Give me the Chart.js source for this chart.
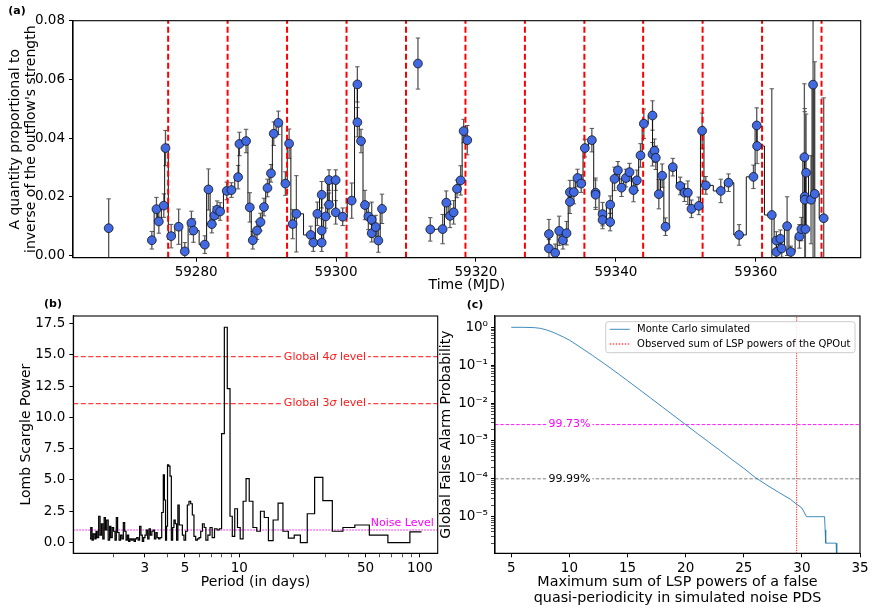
<!DOCTYPE html>
<html>
<head>
<meta charset="utf-8">
<script src="https://cdn.jsdelivr.net/npm/chart.js@4.4.1/dist/chart.umd.min.js"></script>
<style>
html,body{margin:0;padding:0;background:#fff;width:872px;height:610px;overflow:hidden;position:relative;}
canvas{position:absolute;}
#ca{left:0;top:0;}
#cb{left:0;top:290px;}
#cc{left:432px;top:290px;}
</style>
</head>
<body>
<canvas id="ca" width="872" height="300" style="width:872px;height:300px"></canvas>
<canvas id="cb" width="440" height="320" style="width:440px;height:320px"></canvas>
<canvas id="cc" width="440" height="320" style="width:440px;height:320px"></canvas>
<script>
// ---------------- Panel (a) data ----------------
const mjd = [59267.5,59273.67,59274.33,59274.67,59275.38,59275.62,59276.43,59277.5,59278.38,59279.33,
59279.62,59281.24,59281.76,59282.24,59282.62,59283.0,59283.43,59284.38,59285.05,59286.0,
59286.19,59287.14,59287.67,59288.1,59288.7,59289.2,59289.7,59290.2,59290.7,59291.1,
59291.76,59292.76,59293.29,59293.8,59294.33,59296.38,59296.76,59297.33,59297.95,59297.95,
59297.95,59298.52,59299.0,59299.0,59299.95,59299.95,59300.95,59302.24,59303.05,59303.05,
59303.57,59304.14,59304.62,59305.1,59305.1,59305.67,59306.05,59306.57,59311.71,59313.47,
59315.24,59315.76,59316.29,59316.81,59317.29,59317.81,59318.24,59318.76,59330.43,59330.43,
59331.33,59331.9,59332.43,59332.95,59333.43,59333.43,59334.0,59334.52,59335.05,59335.57,
59336.57,59337.1,59337.1,59338.1,59338.1,59339.19,59339.19,59339.81,59340.29,59340.81,
59341.43,59341.95,59342.52,59343.0,59343.52,59344.0,59345.24,59345.24,59345.52,59345.71,
59346.14,59346.62,59347.1,59348.14,59349.2,59349.81,59350.29,59350.81,59351.86,59352.33,
59352.86,59355.0,59356.1,59357.62,59359.67,59360.14,59360.19,59362.29,59362.95,59362.95,
59363.52,59363.71,59364.48,59365.0,59366.24,59366.52,59366.95,59367.0,59367.0,59367.1,
59367.19,59367.9,59368.19,59368.43,59369.71];
const strength = [0.0093,0.0052,0.0158,0.0116,0.0170,0.0366,0.0066,0.0098,0.0014,0.0111,
0.0085,0.0037,0.0225,0.0107,0.0136,0.0156,0.0150,0.0220,0.0223,0.0267,
0.0380,0.0390,0.0164,0.0052,0.0085,0.0114,0.0165,0.0230,0.0280,0.0415,
0.0452,0.0245,0.0381,0.0107,0.0142,0.0070,0.0044,0.0142,0.0207,0.0085,
0.0044,0.0133,0.0257,0.0173,0.0257,0.0147,0.0132,0.0187,0.0583,0.0454,
0.0390,0.0172,0.0133,0.0122,0.0076,0.0097,0.0051,0.0159,0.0654,0.0089,
0.0090,0.0180,0.0135,0.0147,0.0227,0.0256,0.0424,0.0393,0.0073,0.0024,
0.0009,0.0084,0.0052,0.0076,0.0216,0.0183,0.0216,0.0264,0.0245,0.0366,
0.0393,0.0214,0.0207,0.0141,0.0121,0.0173,0.0114,0.0261,0.0290,0.0231,
0.0264,0.0284,0.0223,0.0256,0.0341,0.0449,0.0477,0.0345,0.0357,0.0333,
0.0209,0.0272,0.0098,0.0301,0.0237,0.0214,0.0214,0.0159,0.0169,0.0425,
0.0239,0.0220,0.0248,0.0070,0.0268,0.0443,0.0373,0.0138,0.0051,0.0012,
0.0057,0.0024,0.0100,0.0012,0.0065,0.0090,0.0335,0.0201,0.0190,0.0090,
0.0282,0.0190,0.0582,0.0210,0.0127];
const strengthErr = [0.0100,0.0030,0.0040,0.0040,0.0040,0.0060,0.0040,0.0060,0.0030,0.0040,
0.0040,0.0030,0.0070,0.0030,0.0030,0.0030,0.0030,0.0030,0.0025,0.0040,
0.0040,0.0040,0.0050,0.0030,0.0030,0.0030,0.0030,0.0030,0.0030,0.0040,
0.0040,0.0040,0.0050,0.0050,0.0130,0.0030,0.0030,0.0040,0.0045,0.0040,
0.0030,0.0040,0.0035,0.0040,0.0035,0.0040,0.0030,0.0060,0.0060,0.0050,
0.0040,0.0050,0.0045,0.0060,0.0030,0.0040,0.0040,0.0050,0.0087,0.0040,
0.0050,0.0040,0.0040,0.0040,0.0030,0.0050,0.0040,0.0050,0.0050,0.0030,
0.0030,0.0050,0.0030,0.0040,0.0040,0.0040,0.0040,0.0030,0.0030,0.0030,
0.0040,0.0050,0.0050,0.0040,0.0030,0.0030,0.0030,0.0040,0.0030,0.0030,
0.0030,0.0030,0.0040,0.0035,0.0040,0.0050,0.0050,0.0040,0.0040,0.0040,
0.0050,0.0040,0.0030,0.0030,0.0030,0.0030,0.0040,0.0030,0.0030,0.0060,
0.0030,0.0040,0.0030,0.0035,0.0040,0.0060,0.0060,0.0430,0.0030,0.0030,
0.0030,0.0030,0.0100,0.0020,0.0040,0.0040,0.0250,0.0300,0.0300,0.0200,
0.0200,0.0150,0.0600,0.0450,0.0410];
const outflowPeriodLines = [59276.0,59284.5,59293.0,59301.5,59310.0,59318.5,59327.0,59335.5,59343.9,59352.4,59360.9,59369.4];
const lineBreaks = [59270.0,59309.0,59312.6,59325.0];
const timeTicks = [59280,59300,59320,59340,59360];
const strengthTicks = [0,0.02,0.04,0.06,0.08];

// ---------------- Panel (b) data ----------------
const lspPeriod = [1.49,1.52,1.54,1.57,1.60,1.62,1.65,1.68,1.71,1.74,1.77,1.80,1.83,1.86,1.90,1.93,1.96,2.00,2.03,2.07,
2.10,2.14,2.18,2.22,2.26,2.30,2.34,2.38,2.42,2.46,2.50,2.55,2.59,2.64,2.68,2.73,2.78,2.83,2.88,2.93,
2.98,3.03,3.08,3.14,3.19,3.25,3.31,3.36,3.42,3.48,3.54,3.61,3.67,
3.77,3.82,3.88,3.93,3.98,4.03,4.10,4.17,4.24,4.31,4.38,4.46,4.53,4.61,4.69,4.79,4.89,4.99,5.10,5.21,
5.32,5.44,5.55,5.67,5.80,5.92,6.05,6.18,6.32,6.46,6.60,6.80,6.97,7.18,7.40,7.65,7.85,
8.11,8.42,8.74,9.03,9.26,9.61,9.93,10.3,10.7,11.1,11.6,12.2,12.8,13.4,14.1,14.9,15.9,16.9,18.0,19.4,
20.9,22.7,24.9,27.4,30.7,34.9,40.2,47.3,58.2,75.9,102];
const lspPower = [0.3,1.2,0.2,0.7,0.3,0.9,0.4,2.1,0.6,1.5,0.3,2.0,1.0,1.8,0.2,1.3,0.4,1.2,0.9,0.2,
2.0,0.8,0.2,0.6,0.3,1.6,0.9,0.2,0.6,0.1,0.3,0.2,0.3,0.1,0.3,0.4,0.2,1.3,0.6,0.1,
0.4,0.6,1.0,0.3,1.1,0.6,0.9,1.0,0.3,0.8,0.4,0.3,0.4,
2.4,5.4,3.4,0.2,1.3,6.2,6.1,5.3,0.2,1.2,1.8,1.5,0.2,3.0,1.4,1.4,0.6,0.2,0.9,3.0,
3.3,3.1,2.2,0.5,0.2,0.3,0.4,0.9,1.5,1.2,0.2,0.6,1.2,0.4,1.1,1.0,1.1,
8.7,17.2,12.3,2.1,0.5,2.7,1.2,0.3,3.3,5.1,3.3,1.2,0.9,2.5,2.0,0.15,1.8,3.15,0.9,0.35,
0.6,0.0,2.3,5.2,3.35,0.9,1.2,1.4,0.6,0.0,0.85];
const sigma4Level = 14.85;
const sigma3Level = 11.1;
const noiseLevel = 1.0;
const periodMin = 1.205, periodMax = 125.4;
const periodMajorTicks = [3,5,10,50,100];
const periodMinorTicks = [2,4,6,7,8,9,20,30,40,60,70,80,90];
const powerTicks = [0,2.5,5,7.5,10,12.5,15,17.5];

// ---------------- Panel (c) data ----------------
const simSum = [5,6,7,7.5,8,8.5,9,9.5,10,11,12,13,14,15,16,17,18,19,20,21,22,23,24,25,26,27,28,29,29.5,30,30.4,31,31.5,31.95,32.0,32.05,32.5,32.95,33.0];
const simFap = [1.0,1.0,0.98,0.94,0.86,0.76,0.65,0.55,0.46,0.29,0.18,0.11,0.066,0.039,0.023,0.0135,0.0079,0.0046,0.0027,0.00158,
0.00093,0.00055,0.00032,0.00019,0.000108,0.000068,0.000044,0.000029,0.000022,0.000017,0.00001,0.00001,0.00001,0.00001,0.0000045,0.000002,0.000002,0.000002,0.0000005];
const observedSum = 29.55;
const fap9973 = 0.0027;
const fap9999 = 0.0001;
const sumTicks = [5,10,15,20,25,30,35];
const fapDecades = [1,1e-1,1e-2,1e-3,1e-4,1e-5];
const fapDecadeLabels = ['10\u2070','10\u207B\u00B9','10\u207B\u00B2','10\u207B\u00B3','10\u207B\u2074','10\u207B\u2075'];

// ---------------- Common ----------------
const FONT = '"DejaVu Sans", "Liberation Sans", sans-serif';
Chart.defaults.font.family = FONT;
Chart.defaults.color = '#000';
Chart.defaults.animation = false;

const gridOpts = {display:true, drawOnChartArea:false, drawTicks:true, tickLength:4, tickColor:'#000', tickWidth:1};
const borderOpts = {display:true, color:'#000', width:1.1};

const framePlugin = {id:'frame', afterDraw(chart){
  const {ctx, chartArea:a} = chart; ctx.save(); ctx.strokeStyle='#000'; ctx.lineWidth=1.1;
  ctx.strokeRect(a.left, a.top, a.right-a.left, a.bottom-a.top); ctx.restore();
}};
function panelLabel(text, x, y){
  return {id:'lbl', afterDraw(chart){
    const ctx = chart.ctx; ctx.save(); ctx.font = 'bold 11px '+FONT; ctx.fillStyle='#000';
    ctx.textAlign='center'; ctx.textBaseline='middle'; ctx.fillText(text, x, y); ctx.restore();
  }};
}

// ---------------- Chart (a) ----------------
const ptsA = mjd.map((t,i)=>({x:t, y:strength[i]}));
const stepA = [];
for (let i=0;i<mjd.length;i++){
  if (i>0) for (const b of lineBreaks) if (mjd[i-1]<b && b<mjd[i]) stepA.push({x:b, y:null});
  stepA.push({x:mjd[i], y:strength[i]});
}
const errA = [];
mjd.forEach((t,i)=>{ errA.push({x:t,y:strength[i]-strengthErr[i]},{x:t,y:strength[i]+strengthErr[i]},{x:t,y:null}); });
const redA = [];
outflowPeriodLines.forEach(t=>{ redA.push({x:t,y:-0.01},{x:t,y:0.09},{x:t,y:null}); });

new Chart(document.getElementById('ca'), {
  type:'line',
  data:{datasets:[
    {data:ptsA, showLine:false, pointRadius:4.4, pointHoverRadius:4.4, pointBackgroundColor:'#4169e1', pointBorderColor:'#111', pointBorderWidth:0.8},
    {data:redA, showLine:true, spanGaps:false, pointRadius:0, borderColor:'#ff0000', borderWidth:2, borderDash:[6,3]},
    {data:stepA, showLine:true, spanGaps:false, stepped:'middle', pointRadius:0, borderColor:'#111', borderWidth:1},
    {data:errA, showLine:true, spanGaps:false, pointRadius:2.2, pointStyle:'line', pointBorderColor:'#555', pointBorderWidth:1, borderColor:'#555', borderWidth:1.3}
  ]},
  options:{
    responsive:false, animation:false, events:[],
    layout:{padding:{top:20.7, right:11.3, left:0, bottom:0}},
    plugins:{legend:{display:false}, tooltip:{enabled:false}},
    scales:{
      x:{type:'linear', min:59262.4, max:59375,
        afterBuildTicks:s=>{s.ticks = timeTicks.map(v=>({value:v}));},
        afterFit:s=>{s.height = 42.3;},
        ticks:{autoSkip:false, maxRotation:0, padding:3, font:{size:13.5}, callback:v=>String(v)},
        grid:gridOpts, border:borderOpts,
        title:{display:true, text:'Time (MJD)', font:{size:14, lineHeight:'16px'}, padding:{top:0, bottom:7}}},
      y:{type:'linear', min:-0.00075, max:0.08,
        afterBuildTicks:s=>{s.ticks = strengthTicks.map(v=>({value:v}));},
        afterFit:s=>{s.width = 73;},
        ticks:{autoSkip:false, padding:4, font:{size:13.5}, callback:v=>Number(v).toFixed(2)},
        grid:gridOpts, border:borderOpts,
        title:{display:true, text:['A quantity proportional to',"inverse of the outflow's strength"], font:{size:14, lineHeight:'16.7px'}, padding:{top:6.7, bottom:0}}}
    }
  },
  plugins:[framePlugin, panelLabel('(a)', 17, 11)]
});

// ---------------- Chart (b) ----------------
function drawSigmaLabel(ctx, n, cx, cy, color){
  const parts = [['Global '+n, '11px '+FONT], ['\u03C3', 'italic 11px '+FONT], [' level', '11px '+FONT]];
  let total = 0; const ws = [];
  parts.forEach(p=>{ ctx.font=p[1]; const w=ctx.measureText(p[0]).width; ws.push(w); total+=w; });
  ctx.fillStyle='#fff'; ctx.fillRect(cx-total/2-2, cy-7, total+4, 14);
  ctx.fillStyle=color; ctx.textAlign='left'; ctx.textBaseline='middle';
  let x = cx-total/2;
  parts.forEach((p,i)=>{ ctx.font=p[1]; ctx.fillText(p[0], x, cy); x+=ws[i]; });
}
const bLabels = {id:'bLabels', afterDatasetsDraw(chart){
  const {ctx, scales:{x,y}} = chart; ctx.save();
  drawSigmaLabel(ctx, '4', x.getPixelForValue(29.8), y.getPixelForValue(sigma4Level), '#ff1a1a');
  drawSigmaLabel(ctx, '3', x.getPixelForValue(29.8), y.getPixelForValue(sigma3Level), '#ff1a1a');
  ctx.font='11px '+FONT; ctx.fillStyle='#ff00ff'; ctx.textAlign='center'; ctx.textBaseline='middle';
  ctx.fillText('Noise Level', x.getPixelForValue(79.8), y.getPixelForValue(1.55));
  ctx.restore();
}};
const periodAllTicks = periodMajorTicks.concat(periodMinorTicks).sort((a,b)=>a-b);
new Chart(document.getElementById('cb'), {
  type:'line',
  data:{datasets:[
    {data:lspPeriod.map((p,i)=>({x:p, y:lspPower[i]})), stepped:'middle', pointRadius:0, borderColor:'#000', borderWidth:1.2},
    {data:[{x:periodMin,y:sigma4Level},{x:periodMax,y:sigma4Level}], pointRadius:0, borderColor:'rgba(255,0,0,0.75)', borderWidth:1.3, borderDash:[5,2.5]},
    {data:[{x:periodMin,y:sigma3Level},{x:periodMax,y:sigma3Level}], pointRadius:0, borderColor:'rgba(255,0,0,0.75)', borderWidth:1.3, borderDash:[5,2.5]},
    {data:[{x:periodMin,y:noiseLevel},{x:periodMax,y:noiseLevel}], pointRadius:0, borderColor:'#ff00ff', borderWidth:1.1, borderDash:[1.5,1.5]}
  ]},
  options:{
    responsive:false, animation:false, events:[],
    layout:{padding:{top:26, right:2.3, left:0, bottom:0}},
    plugins:{legend:{display:false}, tooltip:{enabled:false}},
    scales:{
      x:{type:'logarithmic', min:periodMin, max:periodMax,
        afterBuildTicks:s=>{s.ticks = periodAllTicks.map(v=>({value:v}));},
        afterFit:s=>{s.height = 56.7;},
        ticks:{autoSkip:false, maxRotation:0, padding:3, font:{size:13.5}, callback:v=>periodMajorTicks.includes(v)?String(v):''},
        grid:Object.assign({}, gridOpts, {tickWidth:c=>periodMajorTicks.includes(c.tick && c.tick.value)?1:0.7}), border:borderOpts,
        title:{display:true, text:'Period (in days)', font:{size:14, lineHeight:'16px'}, padding:{top:0, bottom:19.3}}},
      y:{type:'linear', min:-0.86, max:18.1,
        afterBuildTicks:s=>{s.ticks = powerTicks.map(v=>({value:v}));},
        afterFit:s=>{s.width = 73.3;},
        ticks:{autoSkip:false, padding:4, font:{size:13.5}, callback:v=>Number(v).toFixed(1)},
        grid:gridOpts, border:borderOpts,
        title:{display:true, text:'Lomb Scargle Power', font:{size:14, lineHeight:'16px'}, padding:{top:18, bottom:0}}}
    }
  },
  plugins:[framePlugin, bLabels, panelLabel('(b)', 53, 14)]
});

// ---------------- Chart (c) ----------------
const fapMinor = [];
[1e-6,1e-5,1e-4,1e-3,1e-2,1e-1].forEach(d=>{ for (let k=2;k<=9;k++) fapMinor.push(+(d*k).toPrecision(3)); });
const fapAllTicks = fapDecades.concat(fapMinor).filter(v=>v>=1.08e-6 && v<=1.99).sort((a,b)=>a-b);
const cLabels = {id:'cLabels', afterDatasetsDraw(chart){
  const {ctx, scales:{x,y}} = chart; ctx.save();
  ctx.font='11px '+FONT; ctx.textAlign='center'; ctx.textBaseline='middle';
  const draw=(t,vx,vy,col)=>{ const w=ctx.measureText(t).width; const px=x.getPixelForValue(vx), py=y.getPixelForValue(vy);
    ctx.fillStyle='#fff'; ctx.fillRect(px-w/2-2, py-7, w+4, 14); ctx.fillStyle=col; ctx.fillText(t, px, py); };
  draw('99.73%', 10, fap9973, '#ff00ff');
  draw('99.99%', 10, fap9999, '#000');
  ctx.restore();
}};
const legendC = {id:'legendC', afterDraw(chart){
  const {ctx, chartArea:a} = chart; ctx.save();
  ctx.font='10px '+FONT;
  const items = [
    {text:'Monte Carlo simulated', color:chart.data.datasets[0].borderColor, dash:[]},
    {text:'Observed sum of LSP powers of the QPOut', color:'#ff0000', dash:[1.5,1.5]}
  ];
  const tw = Math.max(...items.map(it=>ctx.measureText(it.text).width));
  const w = 4+20+7.3+tw+4.5, h = 31;
  const x0 = a.right-5-w, y0 = a.top+5.7;
  ctx.beginPath(); ctx.roundRect(x0, y0, w, h, 2.5);
  ctx.fillStyle='rgba(255,255,255,0.85)'; ctx.fill(); ctx.strokeStyle='#cccccc'; ctx.lineWidth=1; ctx.stroke();
  items.forEach((it,i)=>{
    const yy = y0 + (i===0?7.6:22.3);
    ctx.beginPath(); ctx.setLineDash(it.dash); ctx.strokeStyle=it.color; ctx.lineWidth=1;
    ctx.moveTo(x0+4, yy); ctx.lineTo(x0+24, yy); ctx.stroke(); ctx.setLineDash([]);
    ctx.fillStyle='#000'; ctx.textAlign='left'; ctx.textBaseline='middle'; ctx.fillText(it.text, x0+31.3, yy);
  });
  ctx.restore();
}};
new Chart(document.getElementById('cc'), {
  type:'line',
  data:{datasets:[
    {data:simSum.map((s,i)=>({x:s, y:simFap[i]})), pointRadius:0, borderColor:'rgba(31,119,180,0.85)', borderWidth:1},
    {data:[{x:observedSum,y:1e-8},{x:observedSum,y:10}], pointRadius:0, borderColor:'#ff0000', borderWidth:0.9, borderDash:[1.2,1.2]},
    {data:[{x:3.6,y:fap9973},{x:35,y:fap9973}], pointRadius:0, borderColor:'#ff00ff', borderWidth:0.9, borderDash:[3.5,1.8]},
    {data:[{x:3.6,y:fap9999},{x:35,y:fap9999}], pointRadius:0, borderColor:'rgba(0,0,0,0.55)', borderWidth:0.9, borderDash:[3.5,1.8]}
  ]},
  options:{
    responsive:false, animation:false, events:[],
    layout:{padding:{top:26, right:12, left:0, bottom:0}},
    plugins:{legend:{display:false}, tooltip:{enabled:false}},
    scales:{
      x:{type:'linear', min:3.6, max:35,
        afterBuildTicks:s=>{s.ticks = sumTicks.map(v=>({value:v}));},
        afterFit:s=>{s.height = 56.7;},
        ticks:{autoSkip:false, maxRotation:0, padding:3, font:{size:13.5}, callback:v=>String(v)},
        grid:gridOpts, border:borderOpts,
        title:{display:true, text:['Maximum sum of LSP powers of a false','quasi-periodicity in simulated noise PDS'], font:{size:14.3, lineHeight:'15.6px'}, padding:{top:0, bottom:3.9}}},
      y:{type:'logarithmic', min:1.08e-6, max:1.99,
        afterBuildTicks:s=>{s.ticks = fapAllTicks.map(v=>({value:v}));},
        afterFit:s=>{s.width = 63;},
        ticks:{autoSkip:false, padding:3, font:{size:13.5}, callback:v=>{const i=fapDecades.indexOf(v); return i>=0?fapDecadeLabels[i]:'';}},
        grid:Object.assign({}, gridOpts, {tickWidth:c=>fapDecades.includes(c.tick && c.tick.value)?1:0.7}), border:borderOpts,
        title:{display:true, text:'Global False Alarm Probability', font:{size:14, lineHeight:'16px'}, padding:{top:6.7, bottom:0}}}
    }
  },
  plugins:[framePlugin, cLabels, legendC, panelLabel('(c)', 43, 15)]
});
</script>
</body>
</html>
